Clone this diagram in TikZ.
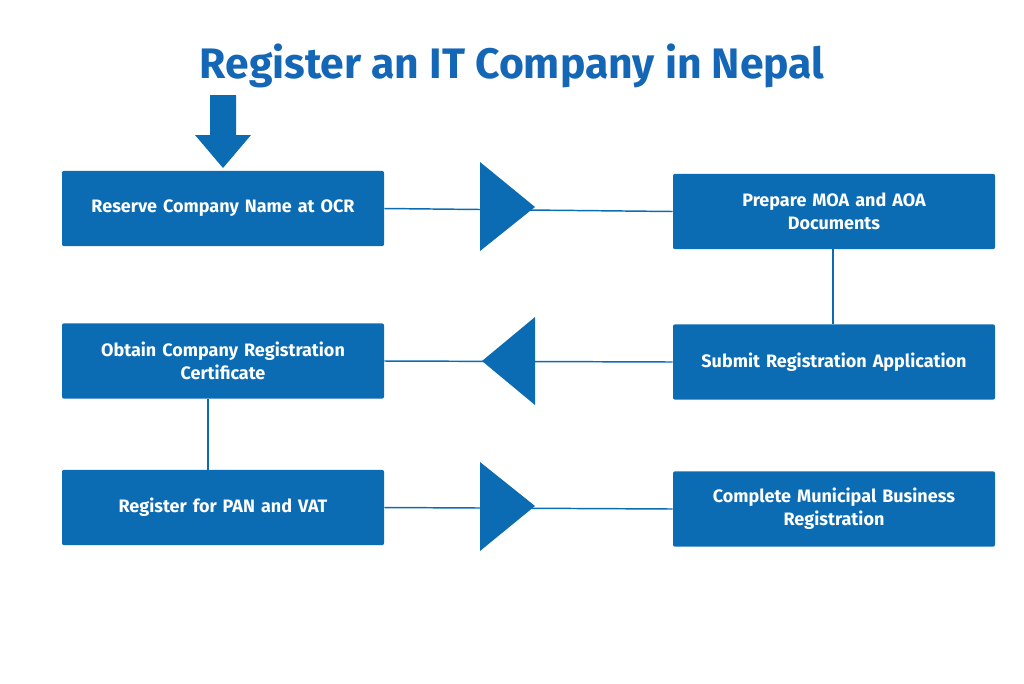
\documentclass[tikz,border=0pt]{standalone}
\usepackage{fontspec}
\setmainfont{Fira Sans}
\definecolor{boxblue}{HTML}{0B6BB3}
\definecolor{titleblue}{HTML}{1467B7}
\begin{document}
\begin{tikzpicture}[x=0.75pt,y=-0.75pt,
  box/.style={fill=boxblue,draw=none,rounded corners=1.5pt,text=white,font=\bfseries\fontsize{13.5}{17}\selectfont,align=center,minimum width=241.5pt,minimum height=56.5pt,text width=225pt,inner sep=0pt},
  conn/.style={draw=boxblue,line width=1.1pt},
  tri/.style={fill=boxblue,draw=none}]
\useasboundingbox (0,0) rectangle (1024,683);
\node[font=\bfseries\fontsize{32}{38}\selectfont,text=titleblue] (title) at (512,66) {Register an IT Company in Nepal};
\node[box] (b1) at (223,208.5) {Reserve Company Name at OCR};
\node[box] (b2) at (834,211.5) {Prepare MOA and AOA\\Documents};
\node[box] (b3) at (223,361) {Obtain Company Registration\\Certificate};
\node[box] (b4) at (834,362) {Submit Registration Application};
\node[box] (b5) at (223,507.5) {Register for PAN and VAT};
\node[box] (b6) at (834,509) {Complete Municipal Business\\Registration};
% connectors
\draw[conn] (b1.east) -- (b2.west);
\draw[conn] (b4.west) -- (b3.east);
\draw[conn] (b5.east) -- (b6.west);
\draw[conn] (b2.south -| 833,0) -- (b4.north -| 833,0);
\draw[conn] (b3.south -| 208,0) -- (b5.north -| 208,0);
% triangles
\fill[tri] (480,162) -- (535,207) -- (480,251) -- cycle;
\fill[tri] (535,317) -- (482,361) -- (535,405) -- cycle;
\fill[tri] (480,462) -- (535,506) -- (480,551) -- cycle;
% down arrow
\fill[tri] (210,95) -- (236,95) -- (236,135) -- (251,135) -- (223,168) -- (195,135) -- (210,135) -- cycle;
\end{tikzpicture}
\end{document}
